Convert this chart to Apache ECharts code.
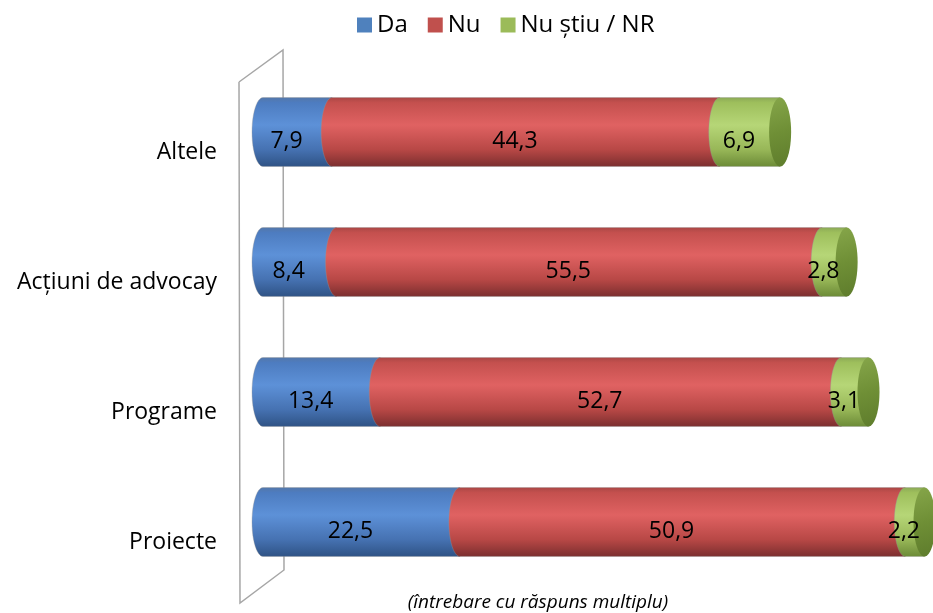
<!DOCTYPE html>
<html>
<head>
<meta charset="utf-8">
<script src="https://cdn.jsdelivr.net/npm/echarts@6/dist/echarts.min.js"></script>
<style>html,body{margin:0;padding:0;background:#fff}#c{width:933px;height:613px}</style>
</head>
<body>
<div id="c"></div>
<script>
const categories = ['Altele', 'Acțiuni de advocay', 'Programe', 'Proiecte'];
const seriesNames = ['Da', 'Nu', 'Nu știu / NR'];
const da = [7.9, 8.4, 13.4, 22.5];
const nu = [44.3, 55.5, 52.7, 50.9];
const ns = [6.9, 2.8, 3.1, 2.2];
const footnote = '(întrebare cu răspuns multiplu)';

const FONT = '"Open Sans", sans-serif';
const FS = 23;
const RX = 11;
const BAR_RATIO = 0.53;
const baseColors = ['#4f81bd', '#c0504d', '#9bbb59'];
const gradStops = [
  [[0, '#5577a8'], [0.08, '#4d7cc0'], [0.4, '#5d91d8'], [0.75, '#4672b2'], [1, '#2e5284']],
  [[0, '#a84644'], [0.08, '#c4504e'], [0.4, '#e06262'], [0.75, '#b84846'], [1, '#7a2e2e']],
  [[0, '#8aa856'], [0.08, '#9ebf5c'], [0.4, '#b6d677'], [0.75, '#98b758'], [1, '#6b8a36']]
];
const all = [da, nu, ns];

function buildData(si) {
  return categories.map((c, i) => {
    let start = 0;
    for (let k = 0; k < si; k++) start += all[k][i];
    return [i, start, start + all[si][i], all[si][i]];
  });
}

function ellipsePts(cx, cy, rx, ry, fromDeg, toDeg, n) {
  const pts = [];
  for (let j = 0; j <= n; j++) {
    const a = (fromDeg + (toDeg - fromDeg) * j / n) * Math.PI / 180;
    pts.push([cx + rx * Math.cos(a), cy + ry * Math.sin(a)]);
  }
  return pts;
}

function makeRender(si) {
  return function (params, api) {
    const cat = api.value(0), s = api.value(1), e = api.value(2), v = api.value(3);
    const p0 = api.coord([s, cat]);
    const p1 = api.coord([e, cat]);
    const h = api.size([0, 1])[1] * BAR_RATIO;
    const cy = p0[1], ry = h / 2;
    const xs = p0[0], xe = p1[0];
    const pts = ellipsePts(xs, cy, RX, ry, 270, 90, 24);
    pts.push([xe, cy + ry]);
    pts.push([xe, cy - ry]);
    const children = [{
      type: 'polygon',
      shape: { points: pts },
      style: {
        fill: new echarts.graphic.LinearGradient(0, 0, 0, 1, gradStops[si].map(g => ({ offset: g[0], color: g[1] }))),
        stroke: 'rgba(150,150,150,0.35)', lineWidth: 1
      }
    }];
    if (si === 2) {
      const cap = ellipsePts(xe, cy, RX, ry, 0, 360, 48);
      children.push({
        type: 'polygon',
        shape: { points: cap },
        style: {
          fill: new echarts.graphic.LinearGradient(0, 0, 1, 1, [
            { offset: 0, color: '#86a64a' }, { offset: 0.5, color: '#6f8f36' }, { offset: 1, color: '#5e7c2c' }
          ])
        }
      });
    }
    children.push({
      type: 'text',
      style: {
        text: v.toFixed(1).replace('.', ','),
        x: (xs + xe) / 2 - 11,
        y: cy + 9,
        align: 'center',
        verticalAlign: 'middle',
        fill: '#000',
        font: FS + 'px ' + FONT
      }
    });
    return { type: 'group', children: children };
  };
}

const chart = echarts.init(document.getElementById('c'));
chart.setOption({
  animation: false,
  textStyle: { fontFamily: FONT },
  legend: {
    top: 8,
    left: 352,
    itemWidth: 15,
    itemHeight: 15,
    itemGap: 20,
    itemTextGap: 5,
    icon: 'rect',
    textStyle: { fontSize: 24, color: '#000', fontFamily: FONT },
    data: seriesNames
  },
  grid: { left: 263, right: 5, top: 67, bottom: 26 },
  xAxis: { type: 'value', min: 0, max: 76, show: false },
  yAxis: {
    type: 'category',
    inverse: true,
    data: categories,
    axisLine: { show: false },
    axisTick: { show: false },
    axisLabel: {
      margin: 46,
      fontSize: FS,
      color: '#000',
      fontFamily: FONT,
      lineHeight: 40,
      formatter: v => '\n' + v
    }
  },
  graphic: [
    {
      type: 'polyline',
      z: 0,
      shape: { points: [[239, 82], [283, 50], [284, 570], [240, 603], [239, 82]] },
      style: { stroke: '#a6a6a6', lineWidth: 1.5, fill: null }
    },
    {
      type: 'text',
      z: 10,
      x: 538,
      y: 603,
      style: { text: footnote, font: 'italic 19px ' + FONT, fill: '#000', align: 'center', verticalAlign: 'middle' }
    }
  ],
  series: seriesNames.map((n, si) => ({
    type: 'custom',
    name: n,
    z: 5,
    itemStyle: { color: baseColors[si] },
    encode: { x: [1, 2], y: 0 },
    renderItem: makeRender(si),
    data: buildData(si)
  }))
});
</script>
</body>
</html>
